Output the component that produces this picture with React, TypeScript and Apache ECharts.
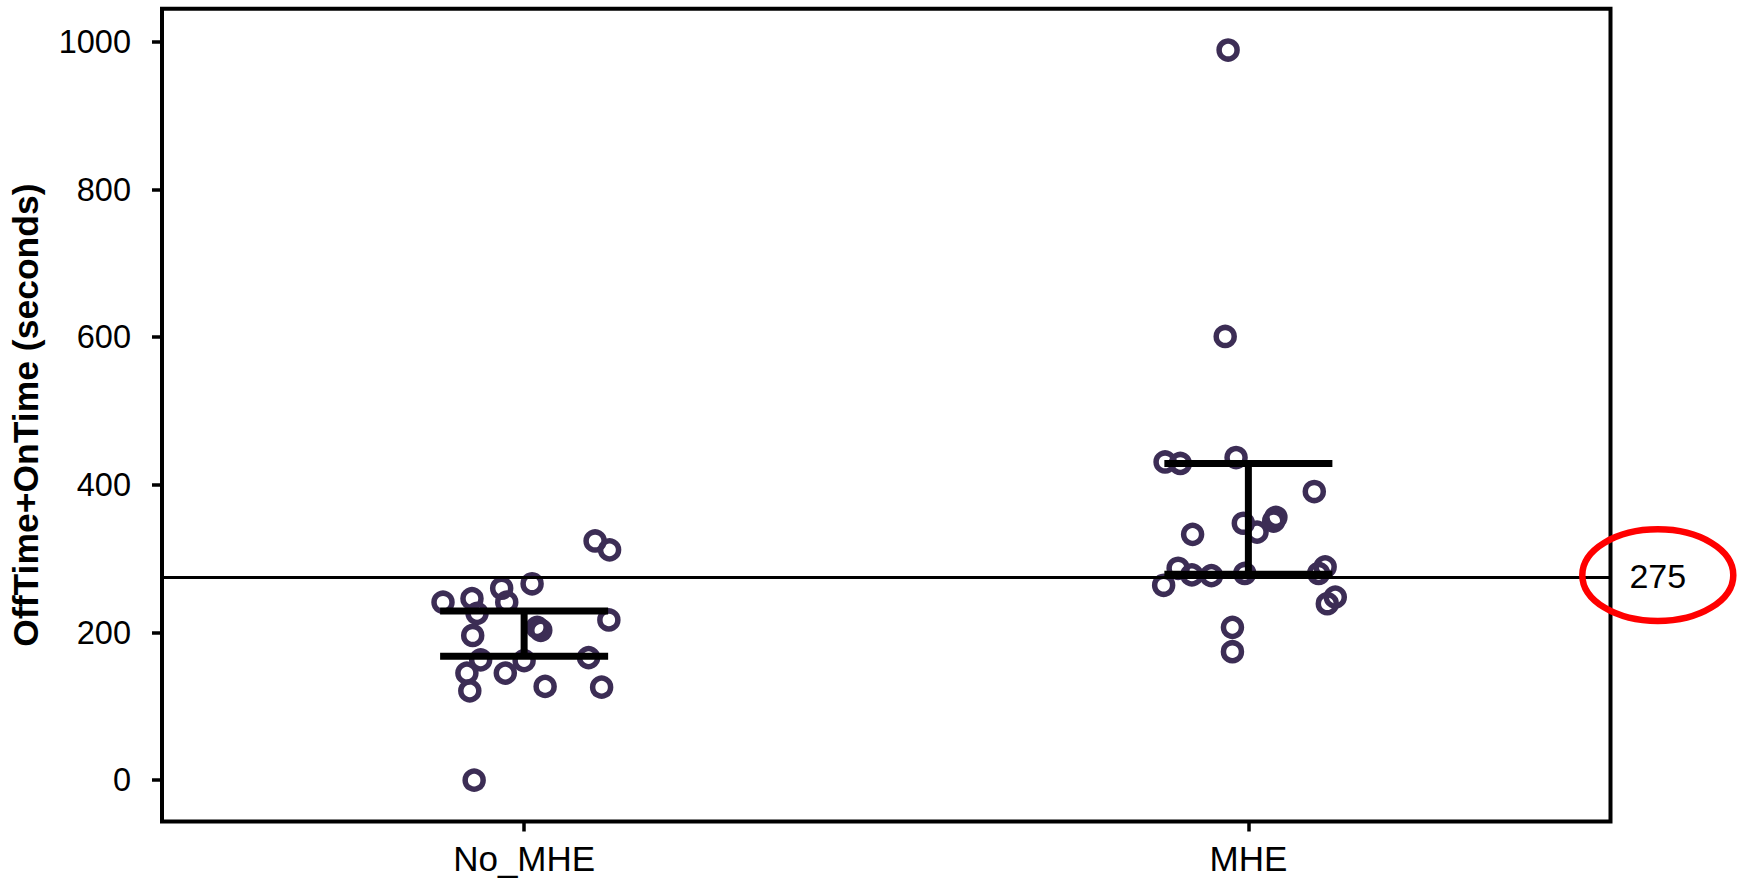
import React, { useEffect, useRef } from 'react';
import * as echarts from 'echarts';

const categories = ['No_MHE', 'MHE'];

// jitter offsets (in category units) and values
const noMheJitter = [0.098, 0.118, 0.011, -0.031, -0.112, -0.072, -0.024, -0.065, 0.117, -0.071, 0.018, 0.023, -0.06, 0.0, 0.089, -0.079, -0.026, -0.075, 0.029, 0.107, -0.069];
const noMheValues = [324, 312, 266, 260, 241, 246, 241, 226, 217, 196, 207, 203, 163, 162, 166, 145, 145, 121, 127, 126, 0];

const mheJitter = [-0.028, -0.032, -0.115, -0.094, -0.017, 0.091, -0.007, 0.012, 0.035, 0.038, -0.077, -0.097, -0.078, -0.051, -0.117, -0.005, 0.106, 0.097, 0.12, 0.109, -0.022, -0.022];
const mheValues = [989, 601, 431, 429, 437, 391, 348, 336, 351, 356, 333, 287, 278, 277, 264, 280, 289, 280, 248, 239, 207, 174];

const errLow = [168, 279];
const errHigh = [229, 429];

const referenceValue = 275;
const yTicks = [0, 200, 400, 600, 800, 1000];
const yMin = -56;
const yMax = 1045;

const FONT = '"Liberation Sans", Arial, Helvetica, sans-serif';

export default function App() {
  const ref = useRef<HTMLDivElement>(null);

  useEffect(() => {
    if (!ref.current) return;
    const chart = echarts.init(ref.current, undefined, { renderer: 'svg' });

    const scatterData: number[][] = [];
    noMheJitter.forEach((j, i) => scatterData.push([0 + j, noMheValues[i]]));
    mheJitter.forEach((j, i) => scatterData.push([1 + j, mheValues[i]]));

    const errData = categories.map((_, i) => [i, errLow[i], errHigh[i]]);

    chart.setOption({
      animation: false,
      backgroundColor: '#fff',
      grid: {
        show: true,
        left: 161.5,
        right: 139.5,
        top: 8.7,
        bottom: 60.5,
        borderColor: '#000',
        borderWidth: 4,
        backgroundColor: 'transparent',
        containLabel: false,
      },
      xAxis: [
        {
          type: 'category',
          data: categories,
          position: 'bottom',
          axisLine: { show: false, onZero: false },
          axisTick: { show: true, alignWithLabel: true, length: 10, lineStyle: { color: '#000', width: 3.5 } },
          axisLabel: { color: '#000', fontSize: 35, fontFamily: FONT, margin: 19 },
          splitLine: { show: false },
        },
        {
          type: 'value',
          min: -0.5,
          max: 1.5,
          show: false,
          axisLine: { onZero: false },
        },
      ],
      yAxis: {
        type: 'value',
        min: yMin,
        max: yMax,
        position: 'left',
        name: 'OffTime+OnTime (seconds)',
        nameLocation: 'middle',
        nameGap: 118,
        nameTextStyle: { color: '#000', fontSize: 35.5, fontWeight: 'bold', fontFamily: FONT },
        axisLine: { show: false, onZero: false },
        axisTick: { show: true, length: 10, customValues: yTicks, lineStyle: { color: '#000', width: 3.5 } },
        axisLabel: {
          color: '#000',
          fontSize: 32.5,
          fontFamily: FONT,
          margin: 31,
          customValues: yTicks,
          formatter: (v: number) => String(v),
        },
        splitLine: { show: false },
      },
      series: [
        {
          type: 'scatter',
          xAxisIndex: 1,
          yAxisIndex: 0,
          z: 2,
          symbol: 'circle',
          symbolSize: 18,
          itemStyle: { color: 'rgba(0,0,0,0)', borderColor: '#3c2d55', borderWidth: 5.5, opacity: 1 },
          data: scatterData,
        },
        {
          type: 'custom',
          xAxisIndex: 1,
          yAxisIndex: 0,
          z: 5,
          data: errData,
          renderItem: (params: any, api: any) => {
            const c = api.value(0);
            const lo = api.value(1);
            const hi = api.value(2);
            const hw = 0.116;
            const a = api.coord([c - hw, lo]);
            const b = api.coord([c + hw, lo]);
            const d = api.coord([c - hw, hi]);
            const e = api.coord([c + hw, hi]);
            const s1 = api.coord([c, lo]);
            const s2 = api.coord([c, hi]);
            const style = { stroke: '#000', lineWidth: 7 };
            return {
              type: 'group',
              children: [
                { type: 'line', shape: { x1: a[0], y1: a[1], x2: b[0], y2: b[1] }, style },
                { type: 'line', shape: { x1: d[0], y1: d[1], x2: e[0], y2: e[1] }, style },
                { type: 'line', shape: { x1: s1[0], y1: s1[1], x2: s2[0], y2: s2[1] }, style },
              ],
            };
          },
          markLine: {
            silent: true,
            symbol: 'none',
            label: { show: false },
            lineStyle: { color: '#000', width: 3, type: 'solid' },
            data: [{ yAxis: referenceValue }],
          },
        },
      ],
    });

    const yPix = chart.convertToPixel({ yAxisIndex: 0 }, referenceValue) as number;
    const xRight = chart.convertToPixel({ xAxisIndex: 1 }, 1.5) as number;
    const cx = xRight + 47.3;

    chart.setOption({
      graphic: [
        {
          type: 'ellipse',
          z: 100,
          shape: { cx, cy: yPix - 2, rx: 75.5, ry: 45.8 },
          style: { fill: 'none', stroke: '#ff0000', lineWidth: 6.5 },
        },
        {
          type: 'text',
          z: 101,
          x: cx,
          y: yPix - 1,
          style: {
            text: String(referenceValue),
            fontSize: 34,
            fontFamily: FONT,
            fill: '#000',
            align: 'center',
            verticalAlign: 'middle',
          },
        },
      ],
    });

    return () => chart.dispose();
  }, []);

  return (
    <div
      ref={ref}
      style={{ position: 'fixed', left: 0, top: 0, width: 1750, height: 882, background: '#fff' }}
    />
  );
}
